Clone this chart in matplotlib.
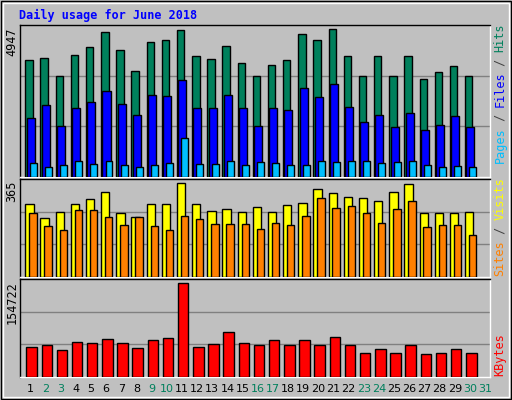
import matplotlib
matplotlib.use("Agg")
import matplotlib.pyplot as plt
from matplotlib.patches import Rectangle

days = list(range(1, 32))
hits = [3792,3857,3302,3955,4217,4707,4119,3465,4380,4446,4772,3923,3825,4249,3694,3302,3661,3792,4642,4446,4805,3923,3302,3923,3302,3923,3203,3432,3628,3302]
files = [1929,2354,1667,2255,2452,2811,2386,2027,2680,2648,3171,2255,2255,2680,2255,1667,2255,2190,2909,2615,3040,2288,1798,2027,1634,2092,1536,1700,1994,1634]
pages = [458,327,392,523,425,523,392,327,392,458,1275,425,425,523,392,490,458,392,392,523,490,523,523,458,490,523,392,327,360,327]
visits = [273,220,243,273,292,318,239,224,273,273,349,273,246,254,243,261,243,269,277,326,311,299,296,284,318,345,239,239,239,243]
sites = [239,189,174,250,250,224,193,224,189,174,227,216,197,197,197,178,201,193,227,296,258,265,239,201,254,284,186,193,193,155]
kbytes = [47232,50490,42346,55376,53747,60262,53747,45604,58633,61891,148212,47232,52118,71663,53747,50490,58633,50490,58633,50490,63520,50490,37460,43975,37460,50490,35832,37460,43975,37460]
weekend = [2,3,9,10,16,17,23,24,30,31]
max_hits, max_visits, max_kb = 4947, 365, 154722

W, H = 512, 400
fig = plt.figure(figsize=(5.12, 4.0), dpi=100, facecolor="#C0C0C0")
mono = "DejaVu Sans Mono"

def fx(px): return px / W
def fy(py): return 1 - py / H

def panel(top, bot):
    ax = fig.add_axes([fx(20), fy(bot), fx(490) - fx(20), fy(top) - fy(bot)])
    ax.set_facecolor("#C0C0C0")
    ax.set_xlim(0, 31)
    for s in ax.spines.values():
        s.set_color("black"); s.set_linewidth(1)
    ax.spines["right"].set_color("white"); ax.spines["bottom"].set_color("white")
    ax.set_xticks([]); ax.set_yticks([])
    return ax

def bars(ax, vals, off, w, color):
    x = [d - 1 + off for d in days[:len(vals)]]
    ax.bar(x, vals, width=w, align="edge", color=color, edgecolor="black", linewidth=1, zorder=3)

ax1 = panel(25, 177)
ax1.set_ylim(0, max_hits)
for g in (max_hits / 3, 2 * max_hits / 3):
    ax1.axhline(g, color="#808080", lw=1, zorder=1)
bars(ax1, hits, 0.35, 0.49, "#00805C")
bars(ax1, files, 0.44, 0.53, "#0000FF")
bars(ax1, pages, 0.64, 0.46, "#00BFFF")

ax2 = panel(179, 277)
ax2.set_ylim(0, max_visits)
for g in (max_visits / 3, 2 * max_visits / 3):
    ax2.axhline(g, color="#808080", lw=1, zorder=1)
bars(ax2, visits, 0.35, 0.55, "#FFFF00")
bars(ax2, sites, 0.61, 0.49, "#FF8000")

ax3 = panel(279, 377)
ax3.set_ylim(0, max_kb)
for g in (max_kb / 3, 2 * max_kb / 3):
    ax3.axhline(g, color="#808080", lw=1, zorder=1)
bars(ax3, kbytes, 0.42, 0.69, "#FF0000")

# frame
fig.patches.append(Rectangle((fx(1), fy(399)), fx(510), fy(1) - fy(399), transform=fig.transFigure,
                             fill=False, edgecolor="black", lw=1))
fig.patches.append(Rectangle((fx(3), fy(397)), fx(506), fy(3) - fy(397), transform=fig.transFigure,
                             fill=False, edgecolor="white", lw=1))

fig.text(fx(19), fy(15), "Daily usage for June 2018", color="#0000FF", fontsize=8.5,
         fontweight="bold", family=mono, va="center", ha="left")

for val, py in ((max_hits, 27), (max_visits, 181), (max_kb, 281)):
    fig.text(fx(12), fy(py), str(val), rotation=90, fontsize=8.5, family=mono,
             ha="center", va="top")

def right_label(parts, base):
    y = base
    for txt, col in parts:
        fig.text(fx(500), fy(y), txt, rotation=90, color=col, fontsize=8.5, family=mono,
                 ha="center", va="bottom")
        y -= len(txt) * 6.95

right_label([("Pages", "#00BFFF"), (" / ", "#404040"), ("Files", "#0000FF"), (" / ", "#404040"), ("Hits", "#00805C")], 163)
right_label([("Sites", "#FF8000"), (" / ", "#404040"), ("Visits", "#FFFF00")], 276)
right_label([("KBytes", "#FF0000")], 376)

for d in days:
    px = 20 + (d - 1 + 0.68) * (470 / 31)
    fig.text(fx(px), fy(389), str(d), fontsize=8, family="DejaVu Sans", ha="center", va="center",
             color="#00805C" if d in weekend else "black")

fig.savefig("out.png", dpi=100, facecolor=fig.get_facecolor())
